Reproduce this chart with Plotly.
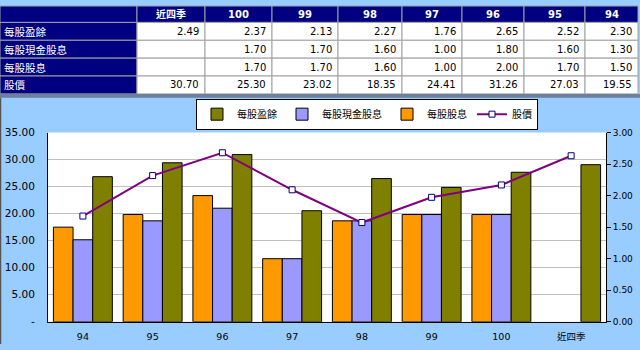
import plotly.graph_objects as go

# ---- data (table order) ----
periods = ["近四季", "100", "99", "98", "97", "96", "95", "94"]
row_labels = ["每股盈餘", "每股現金股息", "每股股息", "股價"]
eps = [2.49, 2.37, 2.13, 2.27, 1.76, 2.65, 2.52, 2.30]
cash_div = [None, 1.70, 1.70, 1.60, 1.00, 1.80, 1.60, 1.30]
stock_div = [None, 1.70, 1.70, 1.60, 1.00, 2.00, 1.70, 1.50]
price = [30.70, 25.30, 23.02, 18.35, 24.41, 31.26, 27.03, 19.55]

left_ticks = [0, 5, 10, 15, 20, 25, 30, 35]
left_ticktext = ["-", "5.00", "10.00", "15.00", "20.00", "25.00", "30.00", "35.00"]

W, H = 640, 350
NAVY = "#000080"
LIGHT = "#99CCFF"
BASE = "DejaVu Sans, Noto Sans CJK TC, sans-serif"
CJK = "Noto Sans CJK TC, DejaVu Sans, sans-serif"


def fmt(v):
    return "" if v is None else f"{v:.2f}"


def px(x):
    return x / W


def py(y):
    return 1 - y / H


# chart order: oldest first
cats = periods[::-1]
eps_c = eps[::-1]
cash_c = cash_div[::-1]
stock_c = stock_div[::-1]
price_c = price[::-1]

fig = go.Figure()

# ---- bars on right axis (y) ----
bar_specs = [
    ("每股股息", stock_c, "#FF9900", 3),
    ("每股現金股息", cash_c, "#9999FF", 2),
    ("每股盈餘", eps_c, "#808000", 1),
]
for name, vals, color, rank in bar_specs:
    fig.add_trace(go.Bar(
        x=cats, y=vals, name=name, yaxis="y", xaxis="x",
        marker=dict(color=color, line=dict(color="black", width=1)),
        legendrank=rank,
    ))

# ---- line on left axis (y2 overlay, drawn above bars) ----
fig.add_trace(go.Scatter(
    x=cats, y=price_c, name="股價", yaxis="y2", xaxis="x",
    mode="lines+markers",
    line=dict(color="#800080", width=2),
    marker=dict(symbol="square", size=6, color="white",
                line=dict(color="#000080", width=1)),
    legendrank=4,
))

# ---- data table at the top (layout: column edges / row edges in px) ----
col_edges = [0, 137, 205, 272, 338, 402, 462, 524, 585, 638]
row_edges = [0, 17, 35.5, 54, 72.5, 91]
series = [eps, cash_div, stock_div, price]

shapes = []
annotations = []
for r in range(len(row_edges) - 1):
    for c in range(len(col_edges) - 1):
        navy = (r == 0 or c == 0)
        shapes.append(dict(
            type="rect", xref="paper", yref="paper",
            x0=px(col_edges[c]), x1=px(col_edges[c + 1]),
            y0=py(row_edges[r + 1]), y1=py(row_edges[r]),
            fillcolor=NAVY if navy else "white",
            line=dict(color="#A0A0A0", width=1), layer="above",
        ))
        ymid = py((row_edges[r] + row_edges[r + 1]) / 2)
        if r == 0:
            if c == 0:
                continue
            annotations.append(dict(
                text=f"<b>{periods[c - 1]}</b>", xref="paper", yref="paper",
                x=px((col_edges[c] + col_edges[c + 1]) / 2), y=ymid,
                xanchor="center", yanchor="middle", showarrow=False,
                font=dict(family=BASE, size=10, color="white"),
            ))
        elif c == 0:
            annotations.append(dict(
                text=row_labels[r - 1], xref="paper", yref="paper",
                x=px(col_edges[0] + 2), y=ymid,
                xanchor="left", yanchor="middle", showarrow=False,
                font=dict(family=CJK, size=10.5, color="white"),
            ))
        else:
            annotations.append(dict(
                text=fmt(series[r - 1][c - 1]), xref="paper", yref="paper",
                x=px(col_edges[c + 1] - 4), y=ymid,
                xanchor="right", yanchor="middle", showarrow=False,
                font=dict(family=BASE, size=10, color="black"),
            ))

# separator band under the table and left frame edge
shapes.append(dict(type="rect", xref="paper", yref="paper", x0=0, x1=1,
                   y0=py(95), y1=py(91), fillcolor="#6E7F9E", line=dict(width=0),
                   layer="above"))
shapes.append(dict(type="line", xref="paper", yref="paper", x0=px(0.5), x1=px(0.5),
                   y0=0, y1=py(95), line=dict(color="#555555", width=1.5),
                   layer="above"))

x0, x1 = px(48), px(606)
y0, y1 = py(327), py(131)

fig.update_layout(
    width=W, height=H,
    margin=dict(l=0, r=0, t=0, b=0),
    paper_bgcolor=LIGHT,
    plot_bgcolor="white",
    font=dict(family=BASE, size=10, color="black"),
    barmode="group",
    bargap=0.155,
    bargroupgap=0,
    xaxis=dict(
        domain=[x0, x1], type="category",
        showline=True, linecolor="black", linewidth=1,
        ticks="", ticklabelstandoff=6,
        tickfont=dict(size=9.5),
        showgrid=False,
    ),
    yaxis=dict(
        domain=[y0, y1], side="right", anchor="x",
        range=[0, 3], tickmode="linear", tick0=0, dtick=0.5, tickformat=".2f",
        showline=True, linecolor="black", linewidth=1,
        ticks="outside", ticklen=4, tickcolor="black",
        tickfont=dict(size=9),
        showgrid=False, zeroline=False,
    ),
    yaxis2=dict(
        overlaying="y", side="left", anchor="x",
        range=[0, 35], tickmode="array", tickvals=left_ticks, ticktext=left_ticktext,
        showline=True, linecolor="black", linewidth=1,
        ticks="", ticklabelstandoff=10,
        tickfont=dict(size=10.5),
        showgrid=True, gridcolor="#C0C0C0", gridwidth=1, zeroline=False,
    ),
    legend=dict(
        orientation="h", x=px(367), y=py(112), xanchor="center", yanchor="middle",
        bgcolor="white", bordercolor="black", borderwidth=1,
        font=dict(family=CJK, size=10), itemwidth=30, tracegroupgap=0,
    ),
    showlegend=True,
    shapes=shapes,
    annotations=annotations,
)

fig.write_html("out.html")
